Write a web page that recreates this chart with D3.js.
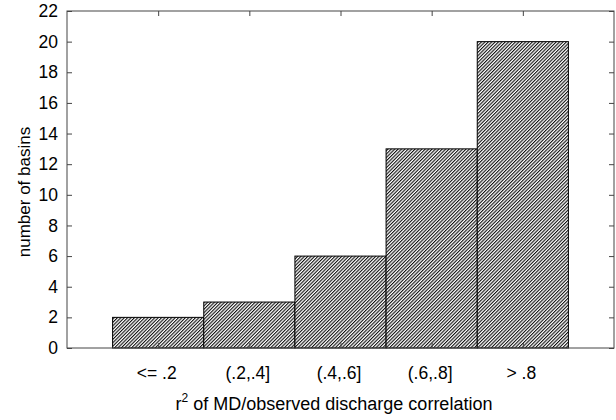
<!DOCTYPE html>
<html><head><meta charset="utf-8">
<script src="https://cdn.jsdelivr.net/npm/d3@7"></script>
<style>body{margin:0;background:#fff}svg text{font-family:Arial,"Liberation Sans",sans-serif}</style>
</head><body><svg id="c" width="616" height="420"></svg>
<script>
const categories = ["<= .2", "(.2,.4]", "(.4,.6]", "(.6,.8]", "> .8"];
const counts = [2, 3, 6, 13, 20];
const yTicks = [0,2,4,6,8,10,12,14,16,18,20,22];

const svg = d3.select("#c");
const L=67, R=614, T=11, B=348;
const x = d3.scaleLinear().domain([0, categories.length+1]).range([L, R]);
const y = d3.scaleLinear().domain([0, 22]).range([B, T]);

const defs = svg.append("defs");
const P=2.4;
const pat = defs.append("pattern").attr("id","hatch").attr("patternUnits","userSpaceOnUse")
  .attr("width",P).attr("height",P).attr("patternTransform","rotate(45)");
pat.append("rect").attr("width",P).attr("height",P).attr("fill","#fff");
pat.append("rect").attr("x",0).attr("width",1.1).attr("height",P).attr("fill","#111");

svg.append("g").selectAll("rect").data(counts).join("rect")
  .attr("x",(d,i)=>x(i+0.5)).attr("width",(d,i)=>x(i+1.5)-x(i+0.5))
  .attr("y",d=>y(d)).attr("height",d=>y(0)-y(d))
  .attr("fill","url(#hatch)").attr("stroke","#000").attr("stroke-width",1);

svg.append("rect").attr("x",L).attr("y",T).attr("width",R-L).attr("height",B-T)
  .attr("fill","none").attr("stroke","#444").attr("stroke-width",1);

const tk=5;
const yl = svg.append("g").attr("transform",`translate(${L},0)`)
  .call(d3.axisLeft(y).tickValues(yTicks).tickSize(-tk).tickPadding(14));
svg.append("g").attr("transform",`translate(${R},0)`)
  .call(d3.axisRight(y).tickValues(yTicks).tickSize(-tk).tickFormat(""));
const xt = d3.range(1, categories.length+1);
svg.append("g").attr("transform",`translate(0,${T})`)
  .call(d3.axisTop(x).tickValues(xt).tickSize(-tk).tickFormat(""));
const xb = svg.append("g").attr("transform",`translate(0,${B})`)
  .call(d3.axisBottom(x).tickValues(xt).tickSize(-tk).tickPadding(19).tickFormat(d=>categories[d-1]));

svg.selectAll(".domain").remove();
svg.selectAll(".tick line").attr("stroke","#444");
svg.selectAll(".tick text").attr("fill","#000");
xb.selectAll(".tick text").attr("font-size",17.5).attr("dx",-2);
yl.selectAll(".tick text").attr("font-size",17.5).attr("dx",5);

const xt2 = svg.append("text").attr("x",334).attr("y",410).attr("text-anchor","middle").attr("font-size",18);
xt2.append("tspan").text("r");
xt2.append("tspan").attr("dy",-8).attr("font-size",12).text("2");
xt2.append("tspan").attr("dy",8).text(" of MD/observed discharge correlation");

svg.append("text").attr("transform","translate(30,192) rotate(-90)").attr("text-anchor","middle")
  .attr("font-size",17).text("number of basins");
</script></body></html>
